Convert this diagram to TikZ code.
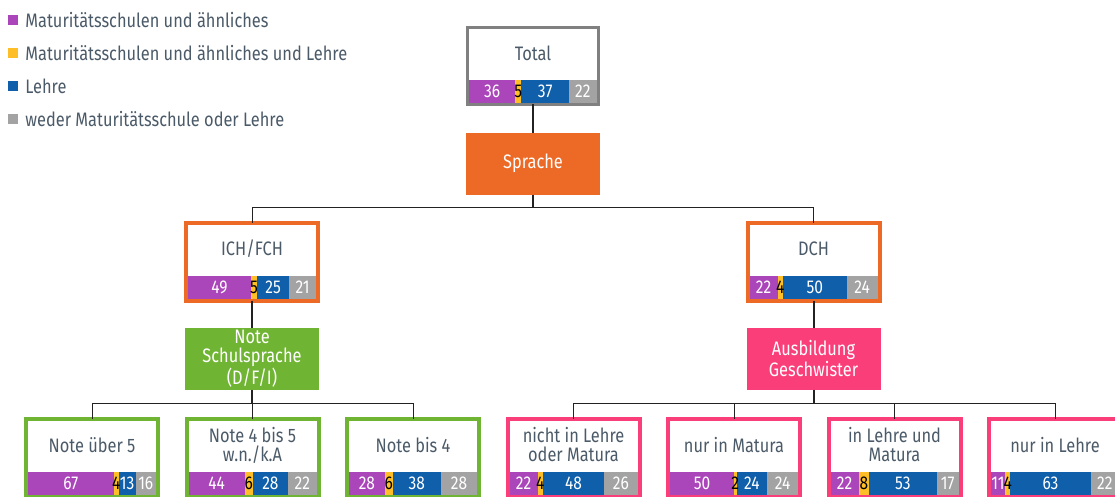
\documentclass[tikz,border=0pt]{standalone}
\usepackage{fontspec}
\setmainfont{Fira Sans}[FakeStretch=0.84]
\usetikzlibrary{positioning,calc}

\definecolor{matur}{RGB}{170,70,185}
\definecolor{both}{RGB}{253,190,40}
\definecolor{lehre}{RGB}{15,95,170}
\definecolor{weder}{RGB}{163,163,163}
\definecolor{sprach}{RGB}{236,106,38}
\definecolor{noten}{RGB}{112,180,52}
\definecolor{geschw}{RGB}{250,62,122}
\definecolor{frame}{RGB}{128,128,128}
\definecolor{ink}{RGB}{75,90,104}
\definecolor{wire}{RGB}{34,34,34}

% bar of shares at the foot of a box: [half frame width]{node}{four shares}
\newcommand{\pctbar}[6][2]{%
	\begin{scope}[shift={($(#2.south west)+(#1pt,#1pt)$)}, x=1.28pt, y=1pt]
		\fill[matur] (0,0) rectangle (#3,23);
		\fill[both] (#3,0) rectangle ({#3+#4},23);
		\fill[lehre] ({#3+#4},0) rectangle ({#3+#4+#5},23);
		\fill[weder] ({#3+#4+#5},0) rectangle (100,23);
		\node[num] (#2-a) at ({#3/2},11.5) {#3};
		\node[num, text=black] (#2-b) at ({#3+#4/2},11.5) {#4};
		\node[num] (#2-c) at ({#3+#4+#5/2},11.5) {#5};
		\node[num] (#2-d) at ({(#3+#4+#5+100)/2},11.5) {#6};
	\end{scope}}

\begin{document}
\begin{tikzpicture}[
			x=1pt, y=-1pt,
			node distance={160.5pt},
			box/.style = {draw=#1, line width=4pt, minimum width=132pt, minimum height=78pt, outer sep=0pt, inner sep=0pt},
			split/.style = {fill=#1, minimum width=134pt, minimum height=62pt, outer sep=0pt, inner sep=0pt, text=white, align=center, font=\fontsize{19.5}{19}\selectfont},
			title/.style = {text=ink, align=center, inner sep=0pt, font=\fontsize{19.5}{19}\selectfont},
			num/.style = {text=white, inner sep=0pt, font=\fontsize{18.5}{18.5}\selectfont},
			key/.style = {minimum size=10pt, inner sep=0pt},
			keytext/.style = {text=ink, inner sep=0pt, anchor=west, font=\fontsize{19.5}{19.5}\selectfont},
			stem/.style = {draw=wire, line width=2pt},
			branch/.style = {draw=wire, line width=1pt}
		]
		\useasboundingbox (0,0) rectangle (1115,496);
		\clip (0,0) rectangle (1115,496);

		% legend
		\node[key, fill=matur] (k1) at (13,20) {};
		\node[key, fill=both] (k2) at (13,53) {};
		\node[key, fill=lehre] (k3) at (13,86) {};
		\node[key, fill=weder] (k4) at (13,119) {};
		\node[keytext] (k1t) [right=7pt of k1] {Maturitätsschulen und ähnliches};
		\node[keytext] (k2t) [right=7pt of k2] {Maturitätsschulen und ähnliches und Lehre};
		\node[keytext] (k3t) [right=7pt of k3] {Lehre};
		\node[keytext] (k4t) [right=7pt of k4] {weder Maturitätsschule oder Lehre};

		% tree
		\node[box=frame, line width=3pt, minimum width=131pt, minimum height=77pt] (total) at (533,65.5) {};
		\node[split=sprach] (sprache) at (533,163.5) {Sprache};
		\node[box=sprach] (ich) at (252,261.5) {};
		\node[box=sprach] (dch) at (813.5,261.5) {};
		\node[split=noten] (note) at (252,358.5) {Note\\Schulsprache\\(D/F/I)};
		\node[split=geschw] (ausb) at (813.5,358.5) {Ausbildung\\Geschwister};
		\node[box=noten] (n1) at (92,457.5) {};
		\node[box=noten] (n2) [right of=n1] {};
		\node[box=noten] (n3) [right of=n2] {};
		\node[box=geschw] (g1) [right of=n3] {};
		\node[box=geschw] (g2) [right of=g1] {};
		\node[box=geschw] (g3) [right of=g2] {};
		\node[box=geschw] (g4) [right of=g3] {};

		\node[title] (total-t) at ([yshift=12.5pt]total.center) {Total};
		\node[title] (ich-t) at ([yshift=12.5pt]ich.center) {ICH/FCH};
		\node[title] (dch-t) at ([yshift=12.5pt]dch.center) {DCH};
		\node[title] (n1-t) at ([yshift=12.5pt]n1.center) {Note über 5};
		\node[title] (n2-t) at ([yshift=12.5pt]n2.center) {Note 4 bis 5\\w.n./k.A};
		\node[title] (n3-t) at ([yshift=12.5pt]n3.center) {Note bis 4};
		\node[title] (g1-t) at ([yshift=12.5pt]g1.center) {nicht in Lehre\\oder Matura};
		\node[title] (g2-t) at ([yshift=12.5pt]g2.center) {nur in Matura};
		\node[title] (g3-t) at ([yshift=12.5pt]g3.center) {in Lehre und\\Matura};
		\node[title] (g4-t) at ([yshift=12.5pt]g4.center) {nur in Lehre};

		\pctbar[1.5]{total}{36}{5}{37}{22}
		\pctbar{ich}{49}{5}{25}{21}
		\pctbar{dch}{22}{4}{50}{24}
		\pctbar{n1}{67}{4}{13}{16}
		\pctbar{n2}{44}{6}{28}{22}
		\pctbar{n3}{28}{6}{38}{28}
		\pctbar{g1}{22}{4}{48}{26}
		\pctbar{g2}{50}{2}{24}{24}
		\pctbar{g3}{22}{8}{53}{17}
		\pctbar{g4}{11}{4}{63}{22}

		\draw[stem] (total) -- (sprache);
		\draw[stem] (sprache.south) -- ++(0,13) coordinate (ssplit);
		\draw[branch] (ssplit) -| (ich);
		\draw[branch] (ssplit) -| (dch);
		\draw[stem] (ich) -- (note);
		\draw[stem] (dch) -- (ausb);
		\draw[stem] (note.south) -- ++(0,14) coordinate (nsplit);
		\draw[branch] (nsplit) -| (n1);
		\draw[branch] (nsplit) -| (n2);
		\draw[branch] (nsplit) -| (n3);
		\draw[stem] (ausb.south) -- ++(0,14) coordinate (gsplit);
		\draw[branch] (gsplit) -| (g1);
		\draw[branch] (gsplit) -| (g2);
		\draw[branch] (gsplit) -| (g3);
		\draw[branch] (gsplit) -| (g4);
	\end{tikzpicture}
\end{document}
